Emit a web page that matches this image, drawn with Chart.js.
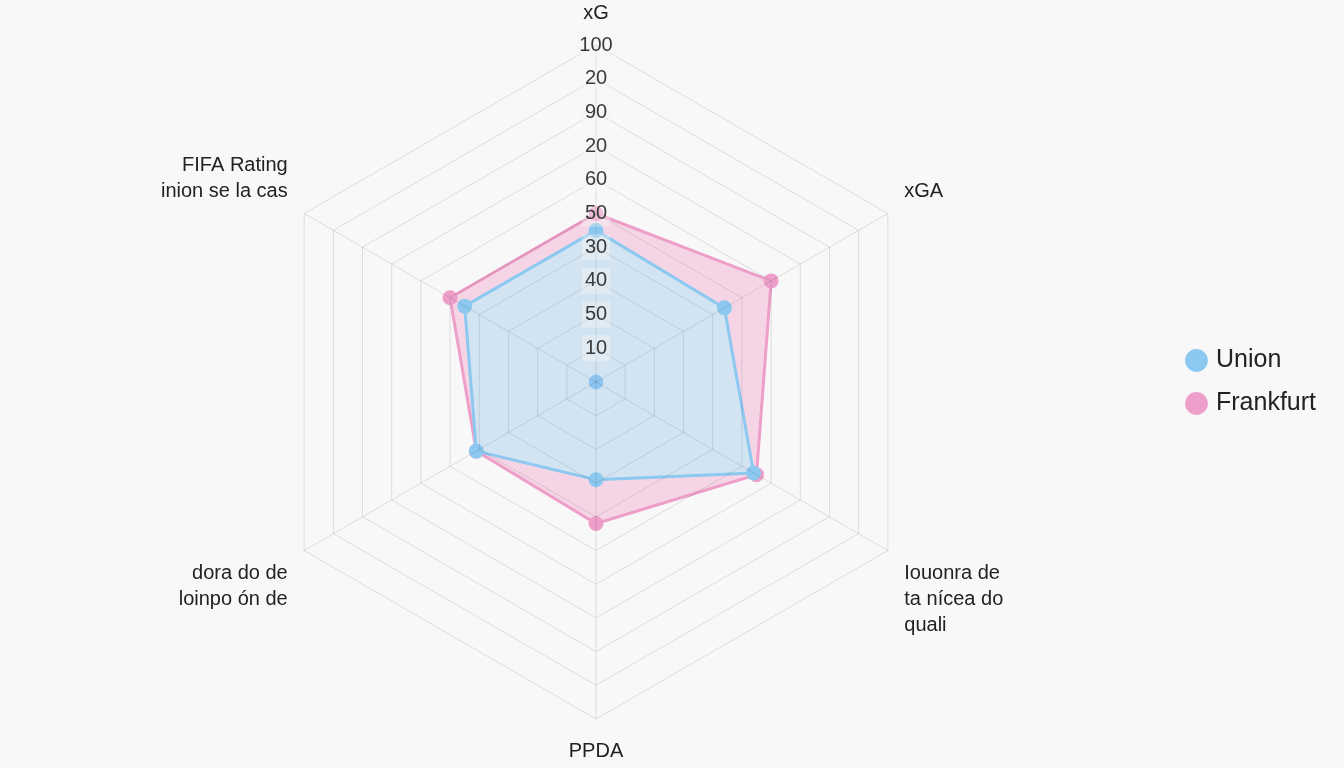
<!DOCTYPE html>
<html>
<head>
<meta charset="utf-8">
<script src="https://cdn.jsdelivr.net/npm/chart.js@4"></script>
<style>
  html, body { margin: 0; padding: 0; background: #f8f8f8; }
  #wrap { width: 1344px; height: 768px; }
</style>
</head>
<body>
<div id="wrap"><canvas id="grafico"></canvas></div>
<script>
const categorias = [
  "xG",
  "xGA",
  ["Iouonra de", "ta nícea do", "quali"],
  "PPDA",
  ["dora do de", "loinpo ón de"],
  ["FIFA Rating", "inion se la cas"]
];
const union = [45, 44, 54, 29, 41, 45];
const frankfurt = [50, 60, 55, 42, 41, 50];
const centro = [0, null, null, null, null, null];
const tickLabels = { 10: "10", 20: "50", 30: "40", 40: "30", 50: "50", 60: "60", 70: "20", 80: "90", 90: "20", 100: "100" };

const ctx = document.getElementById("grafico").getContext("2d");
new Chart(ctx, {
  type: 'radar',
  data: {
    labels: categorias,
    datasets: [{
      label: 'Union',
      data: union,
      borderColor: '#8cc8f0',
      backgroundColor: 'rgba(201, 232, 246, 0.8)',
      pointBackgroundColor: '#8cc8f0',
      pointBorderColor: '#8cc8f0',
      borderWidth: 3,
      pointRadius: 6
    }, {
      label: 'Frankfurt',
      data: frankfurt,
      borderColor: '#ee9fc9',
      backgroundColor: 'rgba(240, 150, 195, 0.35)',
      pointBackgroundColor: '#ee9fc9',
      pointBorderColor: '#ee9fc9',
      borderWidth: 3,
      pointRadius: 6
    }, {
      label: 'centro',
      data: centro,
      order: -1,
      borderColor: '#8ec6f3',
      backgroundColor: '#8ec6f3',
      pointRadius: 7,
      showLine: false,
      fill: false
    }]
  },
  options: {
    responsive: true,
    maintainAspectRatio: false,
    animation: false,
    layout: { padding: { left: 22, right: 18, top: 0, bottom: 4 } },
    plugins: {
      legend: {
        position: 'right',
        labels: {
          usePointStyle: true,
          pointStyle: 'circle',
          boxWidth: 14,
          boxHeight: 14,
          padding: 18,
          color: '#222',
          font: { family: 'Liberation Sans, Arial', size: 25 },
          filter: item => item.text !== 'centro'
        }
      },
      tooltip: { enabled: false }
    },
    scales: {
      r: {
        min: 0,
        max: 100,
        ticks: {
          stepSize: 10,
          z: 2,
          color: '#3a3a3a',
          font: { family: 'Liberation Sans, Arial', size: 20 },
          backdropColor: 'rgba(246, 246, 246, 0.35)',
          backdropPadding: 3,
          callback: v => tickLabels[v] || ''
        },
        grid: { color: 'rgba(0, 0, 0, 0.11)', lineWidth: 1, z: 1 },
        angleLines: { color: 'rgba(0, 0, 0, 0.11)' },
        pointLabels: {
          color: '#222',
          padding: 6,
          font: { family: 'Liberation Sans, Arial', size: 20, lineHeight: 1.3 }
        }
      }
    }
  }
});
</script>
</body>
</html>
